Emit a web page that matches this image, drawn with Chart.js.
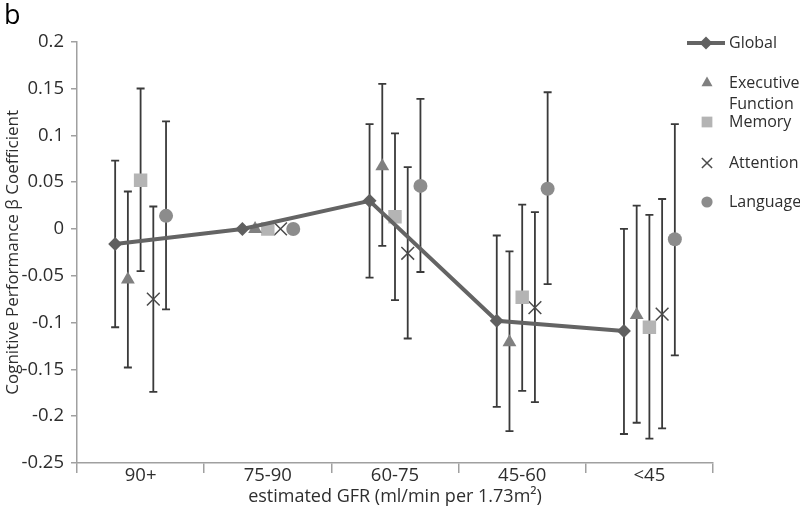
<!DOCTYPE html>
<html><head><meta charset="utf-8">
<script src="https://cdn.jsdelivr.net/npm/chart.js@4/dist/chart.umd.min.js"></script>
<style>html,body{margin:0;padding:0;background:#fff}#wrap{width:800px;height:509px;position:relative}</style>
</head><body><div id="wrap"><canvas id="c" width="800" height="509"></canvas></div>
<script>
// ---- data ----
const categories = ['90+', '75-90', '60-75', '45-60', '<45'];
const yTicks = [-0.25, -0.2, -0.15, -0.1, -0.05, 0, 0.05, 0.1, 0.15, 0.2];
const seriesNames = ['Global', 'Executive Function', 'Memory', 'Attention', 'Language'];

const globalVals   = [-0.016, 0, 0.030, -0.098, -0.109];
const globalLow    = [-0.105, null, -0.052, -0.190, -0.219];
const globalHigh   = [0.073, null, 0.112, -0.007, 0.000];

const execVals     = [-0.054, 0, 0.067, -0.121, -0.092];
const execLow      = [-0.148, null, -0.018, -0.216, -0.207];
const execHigh     = [0.040, null, 0.155, -0.024, 0.025];

const memoryVals   = [0.052, 0, 0.013, -0.073, -0.105];
const memoryLow    = [-0.045, null, -0.076, -0.173, -0.224];
const memoryHigh   = [0.150, null, 0.102, 0.026, 0.015];

const attnVals     = [-0.075, 0, -0.026, -0.084, -0.091];
const attnLow      = [-0.174, null, -0.117, -0.185, -0.213];
const attnHigh     = [0.024, null, 0.066, 0.018, 0.032];

const langVals     = [0.014, 0, 0.046, 0.043, -0.011];
const langLow      = [-0.086, null, -0.046, -0.059, -0.135];
const langHigh     = [0.115, null, 0.139, 0.146, 0.112];

// ---- presentation ----
const FONT = 'Open Sans';
const TXT = '#2e2e2e';
const AXIS = '#a0a0a0';
const seriesStyle = [
  {style: 'rectRot',  r: 7,   color: '#606060', bw: 0},
  {style: 'triangle', r: 8,   color: '#808080', bw: 0},
  {style: 'rect',     r: 9.5, color: '#b4b4b4', bw: 0},
  {style: 'crossRot', r: 9,   color: '#4a4a4a', bw: 1.5},
  {style: 'circle',   r: 7,   color: '#8c8c8c', bw: 0}
];
const series = [
  {v: globalVals, lo: globalLow, hi: globalHigh},
  {v: execVals,   lo: execLow,   hi: execHigh},
  {v: memoryVals, lo: memoryLow, hi: memoryHigh},
  {v: attnVals,   lo: attnLow,   hi: attnHigh},
  {v: langVals,   lo: langLow,   hi: langHigh}
];
const SPREAD = 0.1; // horizontal offset between series within a category

const datasets = series.map((s, si) => ({
  label: seriesNames[si],
  data: s.v.map((v, i) => ({x: i + 1 + (si - 2) * SPREAD, y: v})),
  showLine: si === 0,
  borderColor: si === 0 ? '#646464' : seriesStyle[si].color,
  borderWidth: si === 0 ? 4 : 0,
  pointStyle: seriesStyle[si].style,
  pointRadius: seriesStyle[si].r,
  pointBackgroundColor: seriesStyle[si].color,
  pointBorderColor: seriesStyle[si].color,
  pointBorderWidth: seriesStyle[si].bw,
  xAxisID: 'x', yAxisID: 'y'
}));

const errorBars = {
  id: 'errorBars',
  beforeDatasetsDraw(chart) {
    const ctx = chart.ctx, y = chart.scales.y;
    ctx.save();
    ctx.strokeStyle = '#3a3a3a';
    ctx.lineWidth = 1.8;
    series.forEach((s, si) => {
      const meta = chart.getDatasetMeta(si);
      s.lo.forEach((lo, i) => {
        if (lo == null) return;
        const px = meta.data[i].x;
        const y1 = y.getPixelForValue(lo), y2 = y.getPixelForValue(s.hi[i]);
        ctx.beginPath();
        ctx.moveTo(px, y1); ctx.lineTo(px, y2);
        ctx.moveTo(px - 4, y1); ctx.lineTo(px + 4, y1);
        ctx.moveTo(px - 4, y2); ctx.lineTo(px + 4, y2);
        ctx.stroke();
      });
    });
    ctx.restore();
  }
};

const legendAndLabel = {
  id: 'legendAndLabel',
  afterDraw(chart) {
    const ctx = chart.ctx;
    ctx.save();
    // panel letter
    ctx.fillStyle = '#000';
    ctx.font = '27px "' + FONT + '"';
    ctx.textBaseline = 'alphabetic';
    ctx.textAlign = 'left';
    ctx.fillText('b', 4, 24);
    // legend
    const lx = 707, tx = 729;
    const ys = [43, 83, 122, 163, 202];
    ctx.font = '16px "' + FONT + '"';
    ctx.textBaseline = 'middle';
    seriesNames.forEach((name, si) => {
      const st = seriesStyle[si];
      const yy = ys[si];
      if (si === 0) {
        ctx.strokeStyle = '#646464'; ctx.lineWidth = 4;
        ctx.beginPath(); ctx.moveTo(687, yy); ctx.lineTo(725, yy); ctx.stroke();
      }
      ctx.fillStyle = st.color; ctx.strokeStyle = st.color; ctx.lineWidth = st.bw;
      Chart.helpers.drawPoint(ctx, {pointStyle: st.style, radius: si === 0 ? 6.5 : st.r * 0.8, rotation: 0, borderWidth: st.bw}, si === 0 ? 706 : lx, yy);
      ctx.fillStyle = TXT;
      if (name === 'Executive Function') {
        ctx.fillText('Executive', tx, yy);
        ctx.fillText('Function', tx, yy + 21);
      } else {
        ctx.fillText(name, tx, yy);
      }
    });
    ctx.restore();
  }
};

Chart.defaults.font.family = FONT;
new Chart(document.getElementById('c'), {
  type: 'scatter',
  data: {datasets},
  plugins: [errorBars, legendAndLabel],
  options: {
    responsive: false,
    animation: false,
    layout: {padding: {left: 0, top: 41.7, right: 87, bottom: 0}},
    plugins: {legend: {display: false}, tooltip: {enabled: false}},
    scales: {
      x: {type: 'linear', min: 0.5, max: 5.5, display: false},
      xc: {
        type: 'category', labels: categories, position: 'bottom', offset: true,
        grid: {display: true, drawOnChartArea: false, offset: true, tickLength: 10, color: AXIS, lineWidth: 1.5},
        border: {display: true, color: AXIS, width: 1.5},
        ticks: {font: {size: 18.5, lineHeight: 1}, color: TXT, padding: -7, maxRotation: 0, autoSkip: false},
        title: {display: true, text: 'estimated GFR (ml/min per 1.73m²)', color: TXT,
                font: {size: 18, lineHeight: 1.2}, padding: {top: 0, bottom: 1.2}},
        afterFit(s) { s.height = 46; }
      },
      y: {
        min: -0.25, max: 0.2,
        afterBuildTicks(s) { s.ticks = yTicks.map(v => ({value: v})); },
        ticks: {font: {size: 18.5}, color: TXT, padding: 7,
                callback: v => String(Number(v.toFixed(2)))},
        grid: {display: true, drawOnChartArea: false, tickLength: 6, color: AXIS, lineWidth: 1.5},
        border: {display: true, color: AXIS, width: 1.5},
        title: {display: true, text: 'Cognitive Performance β Coefficient', color: TXT,
                font: {size: 17, lineHeight: 1.2}, padding: {top: 2.5, bottom: 0}},
        afterFit(s) { s.width = 77; }
      }
    }
  }
});
</script>
</body></html>
